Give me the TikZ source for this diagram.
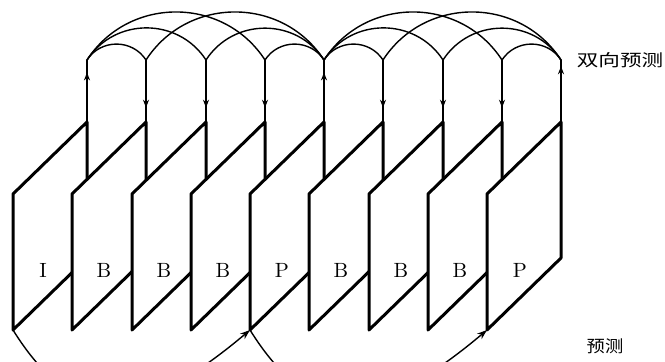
\documentclass[tikz,border=0pt]{standalone}
\usepackage{fontspec}
\newfontfamily\cjk{Noto Sans CJK SC}
\usetikzlibrary{arrows.meta,decorations.markings}

\begin{document}
\begin{tikzpicture}[x=0.5pt,y=-0.5pt,
    framebox/.style={draw, fill=white, line width=1.5pt, line join=round},
    link/.style={line width=0.7pt},
    midtip/.style={postaction={decorate}, decoration={markings,
        mark=at position #1 with {\arrow{Stealth[length=4pt,width=3pt]}}}},
    hop/.style={link, out=57, in=123, looseness=1.1},
    lbl/.style={font=\fontsize{10.3}{12}\selectfont},
    cjklbl/.style={font=\cjk\fontsize{8.3}{10}\selectfont}]
  \useasboundingbox (0,0) rectangle (665,362);
  \clip (0,0) rectangle (665,362);
  % Frames (back to front)
  \draw[framebox] (13,330) coordinate (b0) -- ++(0,-136) -- ++(74,-72) coordinate (c0) -- ++(0,136) -- cycle;
  \draw[framebox] (72,330) coordinate (b1) -- ++(0,-136) -- ++(74,-72) coordinate (c1) -- ++(0,136) -- cycle;
  \draw[framebox] (132,330) coordinate (b2) -- ++(0,-136) -- ++(74,-72) coordinate (c2) -- ++(0,136) -- cycle;
  \draw[framebox] (191,330) coordinate (b3) -- ++(0,-136) -- ++(74,-72) coordinate (c3) -- ++(0,136) -- cycle;
  \draw[framebox] (250,330) coordinate (b4) -- ++(0,-136) -- ++(74,-72) coordinate (c4) -- ++(0,136) -- cycle;
  \draw[framebox] (309,330) coordinate (b5) -- ++(0,-136) -- ++(74,-72) coordinate (c5) -- ++(0,136) -- cycle;
  \draw[framebox] (369,330) coordinate (b6) -- ++(0,-136) -- ++(74,-72) coordinate (c6) -- ++(0,136) -- cycle;
  \draw[framebox] (428,330) coordinate (b7) -- ++(0,-136) -- ++(74,-72) coordinate (c7) -- ++(0,136) -- cycle;
  \draw[framebox] (487,330) coordinate (b8) -- ++(0,-136) -- ++(74,-72) coordinate (c8) -- ++(0,136) -- cycle;
  % Frame types
  \node[lbl] (f0) at (43,270) {I};
  \node[lbl] (f1) at (104,270) {B};
  \node[lbl] (f2) at (164,270) {B};
  \node[lbl] (f3) at (223,270) {B};
  \node[lbl] (f4) at (282,270) {P};
  \node[lbl] (f5) at (341,270) {B};
  \node[lbl] (f6) at (401,270) {B};
  \node[lbl] (f7) at (460,270) {B};
  \node[lbl] (f8) at (520,270) {P};
  % Tops of the vertical links
  \coordinate (t0) at (87,60);
  \coordinate (t1) at (146,60);
  \coordinate (t2) at (206,60);
  \coordinate (t3) at (265,60);
  \coordinate (t4) at (324,60);
  \coordinate (t5) at (383,60);
  \coordinate (t6) at (443,60);
  \coordinate (t7) at (502,60);
  \coordinate (t8) at (561,60);
  % Vertical links (up from I/P, down into B)
  \draw[link, midtip=0.8] (c0) -- (t0);
  \draw[link, midtip=0.77] (t1) -- (c1);
  \draw[link, midtip=0.77] (t2) -- (c2);
  \draw[link, midtip=0.77] (t3) -- (c3);
  \draw[link, midtip=0.8] (c4) -- (t4);
  \draw[link, midtip=0.77] (t5) -- (c5);
  \draw[link, midtip=0.77] (t6) -- (c6);
  \draw[link, midtip=0.77] (t7) -- (c7);
  \draw[link, midtip=0.9] (c8) -- (t8);
  % Bidirectional arcs
  \draw[hop] (t0) to (t1);
  \draw[hop] (t0) to (t2);
  \draw[hop] (t0) to (t3);
  \draw[hop] (t3) to (t4);
  \draw[hop] (t2) to (t4);
  \draw[hop] (t1) to (t4);
  \draw[hop] (t4) to (t5);
  \draw[hop] (t4) to (t6);
  \draw[hop] (t4) to (t7);
  \draw[hop] (t7) to (t8);
  \draw[hop] (t6) to (t8);
  \draw[hop] (t5) to (t8);
  % Forward prediction
  \draw[link, -{Stealth[length=5pt,width=3.5pt]}] (b0) .. controls +(60,96) and +(-114,96) .. (b4);
  \draw[link, -{Stealth[length=5pt,width=3.5pt]}] (b4) .. controls +(60,96) and +(-114,96) .. (b8);
  % Legend
  \node[cjklbl] (bidir) at (620,60) {\scalebox{1.3}[1]{双向预测}};
  \node[cjklbl] (fwd) at (605,346) {\scalebox{1.1}[1]{预测}};
\end{tikzpicture}
\end{document}
